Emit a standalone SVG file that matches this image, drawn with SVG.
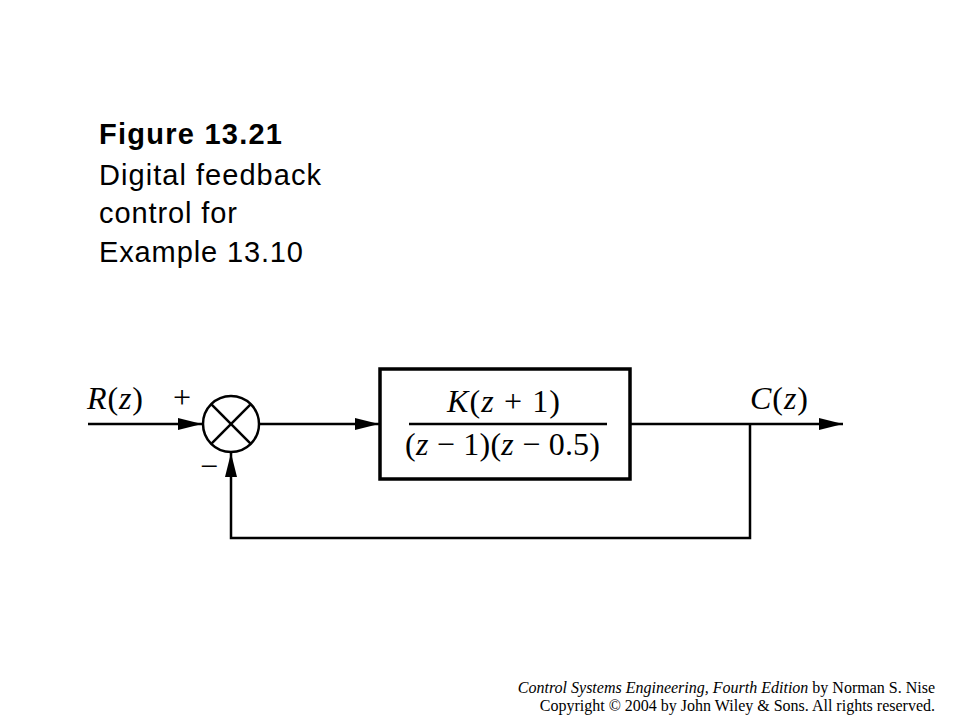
<svg xmlns="http://www.w3.org/2000/svg" width="960" height="720" viewBox="0 0 960 720">
<defs>
<style>
.title{font-family:"Liberation Sans",Arial,sans-serif;font-size:29px;fill:#000}
.math{font-family:"Liberation Serif","Times New Roman",serif;font-size:32px;fill:#000}
.foot{font-family:"Liberation Serif","Times New Roman",serif;font-size:16px;fill:#000}
.ln{fill:none;stroke:#000;stroke-width:2.5}
</style>
<marker id="ah" markerWidth="26" markerHeight="14" refX="24" refY="6" orient="auto" markerUnits="userSpaceOnUse">
<path d="M0,0 L24,6 L0,12 Z" fill="#000"/>
</marker>
</defs>
<rect width="960" height="720" fill="#fff"/>
<g id="caption">
<text class="title" x="99" y="144" font-weight="bold" textLength="183" lengthAdjust="spacing">Figure 13.21</text>
<text class="title" x="99" y="185" textLength="222" lengthAdjust="spacing">Digital feedback</text>
<text class="title" x="99" y="223" textLength="138" lengthAdjust="spacing">control for</text>
<text class="title" x="99" y="262" textLength="204" lengthAdjust="spacing">Example 13.10</text>
</g>
<g id="connectors">
<line class="ln" x1="88" y1="424" x2="202" y2="424" marker-end="url(#ah)"/>
<line class="ln" x1="259" y1="424" x2="379" y2="424" marker-end="url(#ah)"/>
<line class="ln" x1="630" y1="424" x2="843" y2="424" marker-end="url(#ah)"/>
<polyline class="ln" points="750,424 750,538 231,538 231,453" marker-end="url(#ah)"/>
</g>
<g id="summer">
<circle cx="231" cy="424" r="28" fill="#fff" stroke="#000" stroke-width="2.5"/>
<line class="ln" x1="211.2" y1="404.2" x2="250.8" y2="443.8"/>
<line class="ln" x1="250.8" y1="404.2" x2="211.2" y2="443.8"/>
<text class="math" x="182" y="408" text-anchor="middle" font-size="34">+</text>
<text class="math" x="209" y="477" text-anchor="middle" font-size="34">−</text>
</g>
<g id="block">
<rect x="380" y="369" width="250" height="110" fill="#fff" stroke="#000" stroke-width="3.5"/>
<text class="math" x="447" y="412" textLength="113" lengthAdjust="spacing"><tspan font-style="italic">K</tspan>(<tspan font-style="italic">z</tspan> + 1)</text>
<line x1="409" y1="424" x2="607" y2="424" stroke="#000" stroke-width="2.5"/>
<text class="math" x="405" y="455" textLength="195" lengthAdjust="spacing">(<tspan font-style="italic">z</tspan> − 1)(<tspan font-style="italic">z</tspan> − 0.5)</text>
</g>
<g id="labels">
<text class="math" x="87" y="409" textLength="56" lengthAdjust="spacing"><tspan font-style="italic">R</tspan>(<tspan font-style="italic">z</tspan>)</text>
<text class="math" x="750" y="409" textLength="58" lengthAdjust="spacing"><tspan font-style="italic">C</tspan>(<tspan font-style="italic">z</tspan>)</text>
</g>
<g id="footer">
<text class="foot" x="935" y="693" text-anchor="end"><tspan font-style="italic">Control Systems Engineering, Fourth Edition</tspan> by Norman S. Nise</text>
<text class="foot" x="935" y="711" text-anchor="end">Copyright © 2004 by John Wiley &amp; Sons. All rights reserved.</text>
</g>
</svg>
